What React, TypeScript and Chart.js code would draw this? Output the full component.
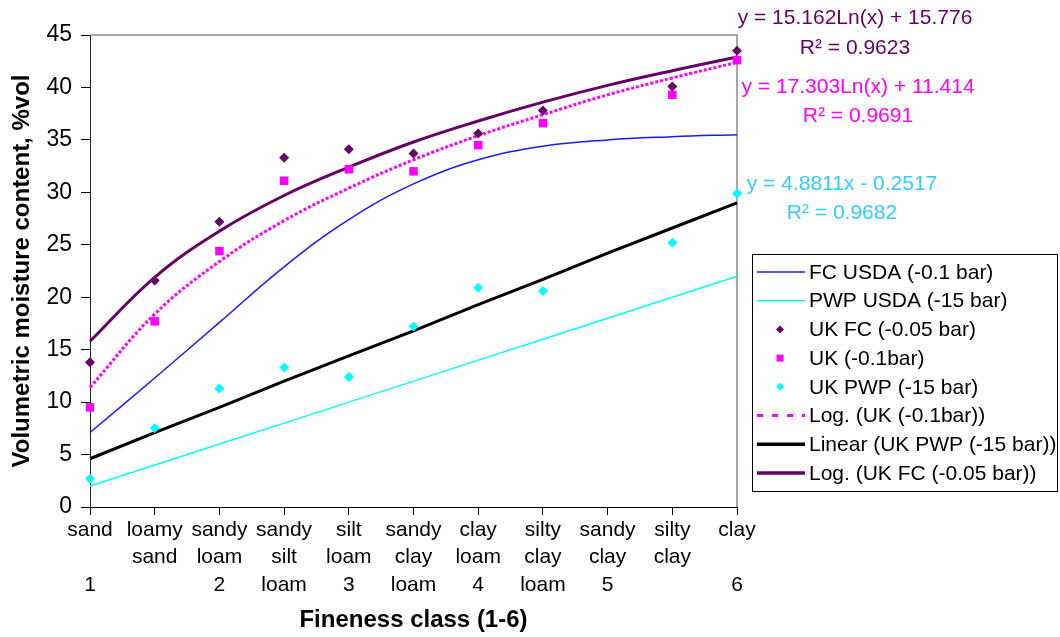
import React, { useEffect, useRef } from 'react';
import { Chart, registerables } from 'chart.js';

Chart.register(...registerables);

// ---------- data ----------
const categories: string[][] = [
  ['sand', '', '1'],
  ['loamy', 'sand', ''],
  ['sandy', 'loam', '2'],
  ['sandy', 'silt', 'loam'],
  ['silt', 'loam', '3'],
  ['sandy', 'clay', 'loam'],
  ['clay', 'loam', '4'],
  ['silty', 'clay', 'loam'],
  ['sandy', 'clay', '5'],
  ['silty', 'clay', ''],
  ['clay', '', '6'],
];

const fcUSDA = [7.1, 12.3, 17.6, 22.9, 27.4, 30.8, 33.1, 34.4, 35.0, 35.3, 35.5];
const pwpUSDA = [2.0, 4.0, 6.0, 8.0, 10.0, 12.0, 14.0, 16.0, 18.0, 20.0, 22.0];
const ukFC = [13.8, 21.6, 27.2, 33.3, 34.1, 33.7, 35.6, 37.8, null, 40.1, 43.5];
const uk01 = [9.5, 17.7, 24.4, 31.1, 32.2, 32.0, 34.5, 36.6, null, 39.3, 42.6];
const ukPWP = [2.7, 7.5, 11.3, 13.3, 12.4, 17.2, 20.9, 20.6, null, 25.2, 29.9];
const logUk01 = [11.4, 18.4, 23.4, 27.3, 30.4, 33.1, 35.4, 37.4, 39.3, 40.9, 42.4];
const linUkPWP = [4.6, 7.1, 9.5, 12.0, 14.4, 16.8, 19.3, 21.7, 24.2, 26.6, 29.0];
const logUkFC = [15.8, 21.9, 26.3, 29.7, 32.4, 34.8, 36.8, 38.6, 40.2, 41.6, 42.9];

const yMin = 0;
const yMax = 45;
const yStep = 5;

const xTitle = 'Fineness class (1-6)';
const yTitle = 'Volumetric moisture content, %vol';

const legendLabels = [
  'FC USDA (-0.1 bar)',
  'PWP USDA (-15 bar)',
  'UK FC (-0.05 bar)',
  'UK (-0.1bar)',
  'UK PWP (-15 bar)',
  'Log. (UK (-0.1bar))',
  'Linear (UK PWP (-15 bar))',
  'Log. (UK FC (-0.05 bar))',
];

const eqFC = ['y = 15.162Ln(x) + 15.776', 'R² = 0.9623'];
const eqUK01 = ['y = 17.303Ln(x) + 11.414', 'R² = 0.9691'];
const eqPWP = ['y = 4.8811x - 0.2517', 'R² = 0.9682'];

// ---------- styles ----------
const PURPLE = '#660066';
const MAGENTA = '#FF00FF';
const CYAN = '#00FFFF';
const BLUE = '#1a1aff';
const BLACK = '#000000';
const EQ_CYAN = '#33CCFF';
const FONT = 'Arial, "Liberation Sans", Helvetica, sans-serif';

const decorPlugin = {
  id: 'decor',
  beforeDatasetsDraw(chart: any) {
    const { ctx, chartArea } = chart;
    const { left, right, top, bottom } = chartArea;
    ctx.save();
    ctx.strokeStyle = '#8a8a8a';
    ctx.lineWidth = 1.5;
    ctx.beginPath();
    ctx.moveTo(left, top);
    ctx.lineTo(right, top);
    ctx.lineTo(right, bottom);
    ctx.stroke();
    ctx.restore();
  },
  afterDraw(chart: any) {
    const { ctx } = chart;
    ctx.save();
    // equations
    ctx.font = `21px ${FONT}`;
    ctx.textAlign = 'center';
    ctx.textBaseline = 'middle';
    const eqs: [string[], string, number, number, number][] = [
      [eqFC, PURPLE, 855, 18, 48],
      [eqUK01, MAGENTA, 858, 87, 116],
      [eqPWP, EQ_CYAN, 842, 184, 213],
    ];
    eqs.forEach(([lines, color, cx, y1, y2]) => {
      ctx.fillStyle = color;
      ctx.fillText(lines[0], cx, y1);
      ctx.fillText(lines[1], cx, y2);
    });

    // legend
    const bx = 752.5, by = 254.5, bw = 305, bh = 237;
    ctx.fillStyle = '#fff';
    ctx.fillRect(bx, by, bw, bh);
    ctx.strokeStyle = '#000';
    ctx.lineWidth = 1;
    ctx.strokeRect(bx, by, bw, bh);
    const x0 = 757, x1 = 805, xm = 780, tx = 809;
    const y0 = 272, dy = 28.7;
    ctx.textAlign = 'left';
    ctx.textBaseline = 'middle';
    legendLabels.forEach((label, i) => {
      const y = y0 + i * dy;
      ctx.save();
      switch (i) {
        case 0:
        case 1:
          ctx.strokeStyle = i === 0 ? BLUE : CYAN;
          ctx.lineWidth = 1.5;
          ctx.beginPath();
          ctx.moveTo(x0, y);
          ctx.lineTo(x1, y);
          ctx.stroke();
          break;
        case 2:
        case 4:
          ctx.fillStyle = i === 2 ? PURPLE : CYAN;
          ctx.beginPath();
          ctx.moveTo(xm - 4, y);
          ctx.lineTo(xm, y - 4);
          ctx.lineTo(xm + 4, y);
          ctx.lineTo(xm, y + 4);
          ctx.closePath();
          ctx.fill();
          break;
        case 3:
          ctx.fillStyle = MAGENTA;
          ctx.fillRect(xm - 3.5, y - 3.5, 7, 7);
          break;
        case 5:
          ctx.strokeStyle = MAGENTA;
          ctx.lineWidth = 3;
          ctx.setLineDash([6, 9]);
          ctx.beginPath();
          ctx.moveTo(x0, y);
          ctx.lineTo(x1, y);
          ctx.stroke();
          break;
        case 6:
        case 7:
          ctx.strokeStyle = i === 6 ? BLACK : PURPLE;
          ctx.lineWidth = 3.5;
          ctx.beginPath();
          ctx.moveTo(x0, y);
          ctx.lineTo(x1, y);
          ctx.stroke();
          break;
      }
      ctx.restore();
      ctx.fillStyle = '#000';
      ctx.font = `21px ${FONT}`;
      ctx.fillText(label, tx, y + 1);
    });
    ctx.restore();
  },
};

export default function App() {
  const canvasRef = useRef<HTMLCanvasElement | null>(null);

  useEffect(() => {
    if (!canvasRef.current) return;
    Chart.defaults.font.family = FONT;
    const chart = new Chart(canvasRef.current, {
      type: 'line',
      data: {
        labels: categories,
        datasets: [
          {
            label: 'UK FC (-0.05 bar)',
            data: ukFC,
            showLine: false,
            pointStyle: 'rectRot',
            pointRadius: 5,
            pointBackgroundColor: PURPLE,
            pointBorderColor: PURPLE,
            pointBorderWidth: 0,
            clip: false,
            order: 1,
          },
          {
            label: 'UK (-0.1bar)',
            data: uk01,
            showLine: false,
            pointStyle: 'rect',
            pointRadius: 6,
            pointBackgroundColor: MAGENTA,
            pointBorderColor: MAGENTA,
            pointBorderWidth: 0,
            clip: false,
            order: 2,
          },
          {
            label: 'UK PWP (-15 bar)',
            data: ukPWP,
            showLine: false,
            pointStyle: 'rectRot',
            pointRadius: 5,
            pointBackgroundColor: CYAN,
            pointBorderColor: CYAN,
            pointBorderWidth: 0,
            clip: false,
            order: 3,
          },
          {
            label: 'Log. (UK FC (-0.05 bar))',
            data: logUkFC,
            borderColor: PURPLE,
            borderWidth: 3,
            pointRadius: 0,
            tension: 0.4,
            order: 4,
          },
          {
            label: 'Log. (UK (-0.1bar))',
            data: logUk01,
            borderColor: MAGENTA,
            borderWidth: 3,
            borderDash: [3, 2],
            pointRadius: 0,
            tension: 0.4,
            order: 5,
          },
          {
            label: 'Linear (UK PWP (-15 bar))',
            data: linUkPWP,
            borderColor: BLACK,
            borderWidth: 3,
            pointRadius: 0,
            tension: 0,
            order: 6,
          },
          {
            label: 'FC USDA (-0.1 bar)',
            data: fcUSDA,
            borderColor: BLUE,
            borderWidth: 1.5,
            pointRadius: 0,
            tension: 0.4,
            order: 7,
          },
          {
            label: 'PWP USDA (-15 bar)',
            data: pwpUSDA,
            borderColor: CYAN,
            borderWidth: 1.5,
            pointRadius: 0,
            tension: 0,
            order: 8,
          },
        ],
      },
      options: {
        responsive: false,
        animation: false,
        devicePixelRatio: 1,
        layout: { padding: { top: 35, right: 323, left: 0, bottom: 0 } },
        plugins: {
          legend: { display: false },
          tooltip: { enabled: false },
        },
        scales: {
          x: {
            type: 'category',
            offset: false,
            afterFit: (s: any) => {
              s.height = 130;
            },
            grid: {
              offset: false,
              drawOnChartArea: false,
              drawTicks: true,
              tickLength: 8,
              color: '#000',
            },
            border: { display: true, color: '#000', width: 1 },
            ticks: {
              autoSkip: false,
              maxRotation: 0,
              minRotation: 0,
              padding: 2,
              color: '#000',
              font: { size: 21, lineHeight: 1.29 },
            },
            title: {
              display: true,
              text: xTitle,
              color: '#000',
              font: { size: 24, weight: 'bold' },
              padding: { top: 0, bottom: 2 },
            },
          },
          y: {
            type: 'linear',
            min: yMin,
            max: yMax,
            afterFit: (s: any) => {
              s.width = 90;
            },
            grid: {
              drawOnChartArea: false,
              drawTicks: true,
              tickLength: 9,
              color: '#000',
            },
            border: { display: true, color: '#222', width: 1 },
            ticks: {
              stepSize: yStep,
              padding: 9,
              color: '#000',
              font: { size: 23 },
            },
            title: {
              display: true,
              text: yTitle,
              color: '#000',
              font: { size: 24, weight: 'bold' },
              padding: { top: 8, bottom: 0 },
            },
          },
        },
      },
      plugins: [decorPlugin],
    } as any);
    return () => chart.destroy();
  }, []);

  return (
    <div style={{ position: 'fixed', left: 0, top: 0, width: 1060, height: 637, background: '#fff' }}>
      <canvas ref={canvasRef} width={1060} height={637} style={{ display: 'block' }} />
    </div>
  );
}
